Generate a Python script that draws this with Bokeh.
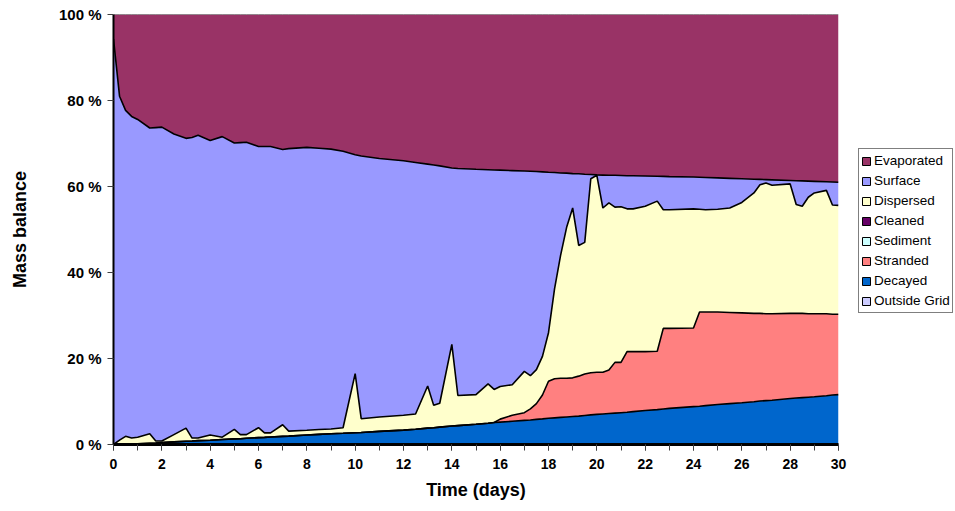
import numpy as np
from bokeh.plotting import figure
from bokeh.layouts import row
from bokeh.models import ColumnDataSource, Range1d, FixedTicker, Legend, LegendItem
from bokeh.embed import file_html
from bokeh.resources import INLINE

# ---------------- data (percent of mass) ----------------
time_days = [0, 0.25, 0.5, 0.75, 1.0, 1.5, 1.75, 2.0, 2.5, 3.0, 3.25, 3.5, 4.0, 4.5,
             5.0, 5.25, 5.5, 6.0, 6.25, 6.5, 7.0, 7.25, 8.0, 8.5, 9.0, 9.5, 10.0, 10.25,
             11.0, 12.0, 12.5, 13.0, 13.25, 13.5, 14.0, 14.25, 15.0, 15.5, 15.75, 16.0,
             16.5, 17.0, 17.25, 17.5, 17.75, 18.0, 18.25, 18.5, 18.75, 19.0, 19.25, 19.5,
             19.75, 20.0, 20.25, 20.5, 20.75, 21.0, 21.25, 21.5, 22.0, 22.5, 22.75, 23.0,
             24.0, 24.25, 24.5, 25.0, 25.5, 26.0, 26.5, 26.75, 27.0, 27.25, 28.0, 28.25,
             28.5, 28.75, 29.0, 29.5, 29.75, 30.0]

decayed = [0, 0, 0.05, 0.1, 0.15, 0.3, 0.35, 0.45, 0.6, 0.75, 0.8, 0.9, 1.0, 1.15,
           1.3, 1.35, 1.45, 1.6, 1.65, 1.75, 1.9, 1.95, 2.2, 2.35, 2.5, 2.6, 2.75, 2.8,
           3.05, 3.35, 3.55, 3.8, 3.9, 4.05, 4.3, 4.4, 4.7, 4.95, 5.1, 5.2,
           5.4, 5.6, 5.7, 5.85, 5.95, 6.1, 6.2, 6.3, 6.4, 6.5, 6.6, 6.75,
           6.9, 7.0, 7.1, 7.2, 7.3, 7.4, 7.5, 7.65, 7.9, 8.1, 8.25, 8.4,
           8.8, 8.9, 9.05, 9.3, 9.5, 9.7, 9.95, 10.1, 10.2, 10.3, 10.7, 10.8,
           10.9, 11.0, 11.1, 11.35, 11.5, 11.6]

stranded = [0, 0, 0, 0, 0, 0, 0, 0, 0, 0, 0, 0, 0, 0,
            0, 0, 0, 0, 0, 0, 0, 0, 0, 0, 0, 0, 0, 0,
            0, 0, 0, 0, 0, 0, 0, 0, 0, 0, 0, 0.7,
            1.4, 1.8, 2.6, 3.65, 5.55, 8.6, 9.1, 9.1, 9.0, 9.0, 9.3, 9.65,
            9.8, 9.8, 9.7, 10.1, 11.8, 11.7, 14.1, 13.95, 13.7, 13.6, 18.75, 18.6,
            18.3, 21.9, 21.75, 21.5, 21.2, 20.9, 20.55, 20.4, 20.2, 20.1, 19.8, 19.7,
            19.6, 19.4, 19.3, 19.05, 18.8, 18.7]

dispersed = [0, 1.0, 1.85, 1.4, 1.55, 2.2, 0.45, 0.35, 1.7, 3.05, 0.7, 0.6, 1.2, 0.55,
             2.2, 0.95, 0.85, 2.3, 1.05, 0.95, 2.7, 1.15, 1.1, 1.15, 1.1, 1.3, 13.75, 3.2,
             3.35, 3.45, 3.55, 9.8, 5.2, 5.55, 19.0, 7.0, 6.9, 9.15, 7.7, 7.6,
             7.1, 9.6, 7.7, 7.9, 9.0, 11.3, 20.9, 28.6, 35.1, 39.5, 30.4, 30.6,
             45.1, 45.8, 38.2, 38.9, 36.1, 36.2, 33.2, 33.2, 33.8, 34.9, 27.6, 27.6,
             27.7, 23.9, 23.8, 23.9, 24.3, 25.7, 28.0, 29.9, 30.4, 29.9, 30.1, 25.3,
             24.9, 27.1, 28.1, 28.7, 25.4, 25.3]

surface = [94.3, 80.0, 75.8, 74.8, 73.9, 71.1, 72.9, 73.0, 69.9, 67.4, 69.9, 70.4, 68.5, 69.9,
           66.6, 67.9, 68.0, 65.4, 66.6, 66.6, 64.0, 65.7, 65.8, 65.4, 65.1, 64.3, 50.9, 61.1,
           60.1, 59.2, 58.5, 51.6, 55.9, 55.2, 41.0, 52.8, 52.4, 49.8, 51.05, 50.3,
           49.8, 46.6, 47.55, 46.1, 42.9, 37.3, 27.05, 19.15, 12.6, 8.0, 16.65, 15.85,
           1.0, 0.1, 7.65, 6.4, 7.4, 7.25, 7.7, 7.7, 7.05, 5.8, 7.75, 7.7,
           7.4, 7.45, 7.5, 7.3, 6.9, 5.5, 3.2, 1.25, 0.8, 1.25, 0.8, 5.55,
           5.9, 3.75, 2.7, 2.0, 5.35, 5.4]

evaporated = [5.7, 19.0, 22.3, 23.7, 24.4, 26.4, 26.3, 26.2, 27.8, 28.8, 28.6, 28.1, 29.3, 28.4,
              29.9, 29.8, 29.7, 30.7, 30.7, 30.7, 31.4, 31.2, 30.9, 31.1, 31.3, 31.8, 32.6, 32.9,
              33.5, 34.0, 34.4, 34.8, 35.0, 35.2, 35.7, 35.8, 36.0, 36.1, 36.15, 36.2,
              36.3, 36.4, 36.45, 36.5, 36.6, 36.7, 36.75, 36.85, 36.9, 37.0, 37.05, 37.15,
              37.2, 37.3, 37.35, 37.4, 37.4, 37.45, 37.5, 37.5, 37.55, 37.6, 37.65, 37.7,
              37.8, 37.85, 37.9, 38.0, 38.1, 38.2, 38.3, 38.35, 38.4, 38.45, 38.6, 38.65,
              38.7, 38.75, 38.8, 38.9, 38.95, 39.0]

n = len(time_days)
outside_grid = [0.0] * n
sediment = [0.0] * n
cleaned = [0.0] * n

# stacking order bottom -> top, with Excel-like colours
stack_names = ["Outside Grid", "Decayed", "Stranded", "Sediment", "Cleaned",
               "Dispersed", "Surface", "Evaporated"]
stack_values = [outside_grid, decayed, stranded, sediment, cleaned,
                dispersed, surface, evaporated]
stack_colors = ["#CCCCFF", "#0066CC", "#FF8080", "#CCFFFF", "#660066",
                "#FFFFCC", "#9999FF", "#993366"]
legend_order = ["Evaporated", "Surface", "Dispersed", "Cleaned", "Sediment",
                "Stranded", "Decayed", "Outside Grid"]

y_ticks = [0, 20, 40, 60, 80, 100]
y_tick_labels = ["0 %", "20 %", "40 %", "60 %", "80 %", "100 %"]
x_major_ticks = list(range(0, 31, 2))
x_minor_ticks = list(range(0, 31))

# ---------------- main figure ----------------
FONT = "Liberation Sans"
p = figure(frame_width=725, frame_height=430, output_backend="svg", toolbar_location=None,
           x_range=Range1d(0, 30), y_range=Range1d(0, 100),
           min_border_left=113, min_border_right=10, min_border_top=14,
           min_border_bottom=67)
p.outline_line_color = None
p.xgrid.visible = False
p.ygrid.visible = False
p.background_fill_color = "white"
p.border_fill_color = "white"

keys = ["s%d" % i for i in range(len(stack_names))]
data = {"time": time_days}
for k, v in zip(keys, stack_values):
    data[k] = v
source = ColumnDataSource(data)
p.varea_stack(stackers=keys, x="time", color=stack_colors, source=source)

# boundary lines
cum = np.cumsum(np.array(stack_values, dtype=float), axis=0)
for i in [1, 2, 5, 6]:
    p.line(time_days, list(cum[i]), line_color="black", line_width=1.6)
p.line(time_days, list(cum[7]), line_color="#404040", line_width=1)

# axes
p.xaxis.ticker = FixedTicker(ticks=x_major_ticks, minor_ticks=x_minor_ticks)
p.yaxis.ticker = FixedTicker(ticks=y_ticks)
p.yaxis.major_label_overrides = {t: l for t, l in zip(y_ticks, y_tick_labels)}

for ax in (p.xaxis[0], p.yaxis[0]):
    ax.axis_line_color = "black"
    ax.major_tick_line_color = "#404040"
    ax.major_tick_out = 6
    ax.major_tick_in = 0
    ax.major_label_text_font = FONT
    ax.major_label_text_font_style = "bold"
    ax.major_label_text_color = "black"
    ax.axis_label_text_font = FONT
    ax.axis_label_text_font_style = "bold"
    ax.axis_label_text_color = "black"
    ax.axis_label_text_font_size = "18px"

p.xaxis.axis_line_width = 3
p.yaxis.axis_line_width = 2
p.xaxis.minor_tick_line_color = "#404040"
p.xaxis.minor_tick_out = 6
p.xaxis.minor_tick_in = 0
p.yaxis.minor_tick_line_color = None
p.xaxis.major_label_text_font_size = "14px"
p.yaxis.major_label_text_font_size = "15px"
p.xaxis.major_label_standoff = 8
p.yaxis.major_label_standoff = 6
p.xaxis.axis_label = "Time (days)"
p.yaxis.axis_label = "Mass balance"
p.xaxis.axis_label_standoff = 8
p.yaxis.axis_label_standoff = 26

# ---------------- legend panel ----------------
q = figure(width=107, height=511, output_backend="svg", toolbar_location=None,
           x_range=Range1d(0, 1), y_range=Range1d(0, 1),
           x_axis_location=None, y_axis_location=None,
           min_border_left=0, min_border_right=0, min_border_top=0, min_border_bottom=0)
q.outline_line_color = None
q.xgrid.visible = False
q.ygrid.visible = False
q.background_fill_color = "white"
q.border_fill_color = "white"

items = []
for name in legend_order:
    c = stack_colors[stack_names.index(name)]
    r = q.quad(left=[0], right=[0], top=[0], bottom=[0],
               fill_color=c, line_color="black", line_width=1)
    r.visible = False
    items.append(LegendItem(label=name, renderers=[r]))

legend = Legend(items=items, location=(10, 131))
legend.border_line_color = "black"
legend.border_line_width = 1
legend.background_fill_color = "white"
legend.label_text_font = FONT
legend.label_text_font_size = "13.5px"
legend.label_text_color = "black"
legend.glyph_width = 10
legend.glyph_height = 10
legend.label_height = 19
legend.spacing = 1
legend.padding = 2
legend.label_standoff = 3
legend.margin = 0
q.add_layout(legend)

layout = row(p, q)
open("out.html", "w").write(file_html(layout, INLINE))
